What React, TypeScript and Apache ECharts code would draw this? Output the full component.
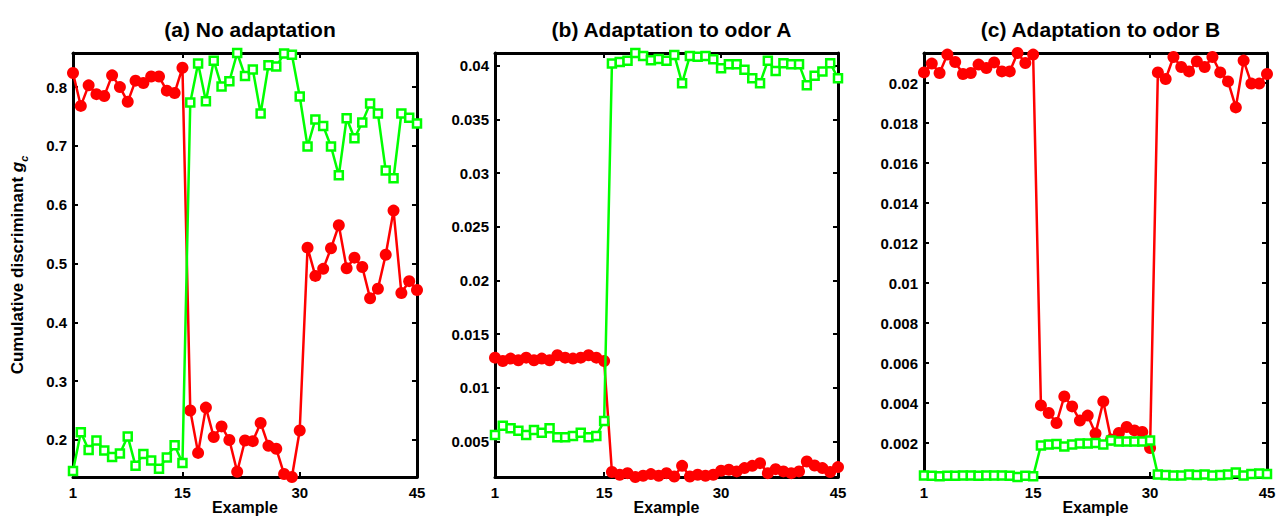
import React, { useEffect, useRef } from "react";
import * as echarts from "echarts";

const examples: number[] = Array.from({ length: 45 }, (_, i) => i + 1);
const xTicks = [1, 15, 30, 45];
const titles = ["(a) No adaptation", "(b) Adaptation to odor A", "(c) Adaptation to odor B"];

const redA = [
  0.824, 0.768, 0.803, 0.788, 0.785, 0.82, 0.8, 0.775, 0.811, 0.807, 0.818, 0.818, 0.794, 0.79, 0.833,
  0.25, 0.178, 0.255, 0.205, 0.223, 0.2, 0.146, 0.199, 0.198, 0.229, 0.19, 0.185, 0.142, 0.137, 0.216,
  0.527, 0.479, 0.491, 0.526, 0.565, 0.492, 0.51, 0.494, 0.441, 0.457, 0.515, 0.59, 0.45, 0.47, 0.455,
];
const greenA = [
  0.147, 0.213, 0.183, 0.199, 0.182, 0.171, 0.177, 0.206, 0.156, 0.176, 0.165, 0.151, 0.17, 0.191, 0.161,
  0.774, 0.84, 0.776, 0.845, 0.801, 0.81, 0.858, 0.819, 0.83, 0.755, 0.837, 0.835, 0.857, 0.855, 0.784,
  0.699, 0.745, 0.734, 0.699, 0.65, 0.747, 0.713, 0.74, 0.772, 0.755, 0.658, 0.645, 0.755, 0.748, 0.738,
];
const redB = [
  0.01282, 0.01251, 0.01273, 0.01258, 0.01282, 0.01258, 0.01273, 0.01258, 0.01304, 0.01282, 0.01273, 0.01282, 0.01304, 0.01282, 0.01251,
  0.00216, 0.00191, 0.00206, 0.0017, 0.00181, 0.00197, 0.00181, 0.00206, 0.00175, 0.00274, 0.00175, 0.00191, 0.00181, 0.00191, 0.00228,
  0.00237, 0.00222, 0.00253, 0.00274, 0.00299, 0.00206, 0.00243, 0.00222, 0.00206, 0.00222, 0.00314, 0.00277, 0.00253, 0.00216, 0.00262,
];
const greenB = [
  0.00562, 0.00648, 0.00624, 0.00602, 0.00562, 0.00608, 0.00583, 0.00624, 0.0054, 0.0054, 0.00553, 0.00583, 0.0054, 0.00553, 0.00692,
  0.04022, 0.04037, 0.04047, 0.0412, 0.04093, 0.04053, 0.04065, 0.04047, 0.04102, 0.03839, 0.04093, 0.04084, 0.04093, 0.04062, 0.03978,
  0.04016, 0.04016, 0.03963, 0.03885, 0.03839, 0.04047, 0.03953, 0.04025, 0.04016, 0.04016, 0.0382, 0.03907, 0.03947, 0.04025, 0.03885,
];
const redC = [
  0.02053, 0.02097, 0.0205, 0.02142, 0.02105, 0.02045, 0.0205, 0.02092, 0.02075, 0.02103, 0.02058, 0.02058, 0.0215, 0.021, 0.02142,
  0.00388, 0.0035, 0.003, 0.00433, 0.00383, 0.00312, 0.00337, 0.00247, 0.00408, 0.00217, 0.0025, 0.0028, 0.00263, 0.00255, 0.00175,
  0.02053, 0.0202, 0.0213, 0.0208, 0.02058, 0.02108, 0.0208, 0.0213, 0.02053, 0.02008, 0.01878, 0.02112, 0.01997, 0.01997, 0.02045,
];
const greenC = [
  0.00037, 0.00036, 0.00034, 0.00036, 0.00036, 0.00037, 0.00037, 0.00036, 0.00037, 0.00037, 0.00037, 0.00036, 0.0003, 0.00036, 0.00034,
  0.00188, 0.00192, 0.00195, 0.00183, 0.00192, 0.00197, 0.00197, 0.002, 0.00192, 0.00213, 0.00208, 0.00208, 0.00208, 0.00208, 0.00212,
  0.00042, 0.0004, 0.00037, 0.00038, 0.00042, 0.0004, 0.00043, 0.00037, 0.0004, 0.00043, 0.00052, 0.00037, 0.00045, 0.00047, 0.00045,
];

const yTicksA = [0.2, 0.3, 0.4, 0.5, 0.6, 0.7, 0.8];
const yTicksB = [0.005, 0.01, 0.015, 0.02, 0.025, 0.03, 0.035, 0.04];
const yTicksC = [0.002, 0.004, 0.006, 0.008, 0.01, 0.012, 0.014, 0.016, 0.018, 0.02];
const yMins = [0.137, 0.0017, 0.0003];
const yMaxs = [0.858, 0.0412, 0.0215];

const FONT = "'Liberation Sans', Arial, Helvetica, sans-serif";
const RED = "#ff0000";
const GREEN = "#00ff00";

export default function App() {
  const ref = useRef<HTMLDivElement>(null);
  useEffect(() => {
    if (!ref.current) return;
    const chart = echarts.init(ref.current, undefined, { renderer: "svg" });
    const lefts = [73, 495, 924];
    const widths = [344, 343, 343];
    const top = 53;
    const height = 424;
    const yTicks = [yTicksA, yTicksB, yTicksC];
    const reds = [redA, redB, redC];
    const greens = [greenA, greenB, greenC];

    const axisLine = { show: true, onZero: false, lineStyle: { color: "#000", width: 3 } };
    const tickStyle = { color: "#000", width: 2 };
    const fmt = (v: number) => String(parseFloat(Number(v).toFixed(4)));

    const grid: any[] = [];
    const xAxis: any[] = [];
    const yAxis: any[] = [];
    const series: any[] = [];
    const title: any[] = [];

    for (let g = 0; g < 3; g++) {
      grid.push({ left: lefts[g], top, width: widths[g], height, containLabel: false, outerBoundsMode: "none" });
      title.push({
        text: titles[g],
        left: lefts[g] + widths[g] / 2,
        textAlign: "center",
        top: 14,
        textStyle: { fontSize: 21, fontWeight: "bold", color: "#000", fontFamily: FONT },
      });
      xAxis.push({
        type: "value",
        gridIndex: g,
        min: 1,
        max: 45,
        position: "bottom",
        axisLine,
        axisTick: { show: true, inside: true, length: 5, lineStyle: tickStyle, customValues: xTicks },
        axisLabel: {
          show: true,
          customValues: xTicks,
          fontSize: 15,
          fontWeight: "bold",
          color: "#000",
          fontFamily: FONT,
          margin: 8,
        },
        splitLine: { show: false },
        name: "Example",
        nameLocation: "middle",
        nameGap: 22,
        nameMoveOverlap: false,
        nameTextStyle: { fontSize: 16, fontWeight: "bold", color: "#000", fontFamily: FONT },
      });
      xAxis.push({
        type: "value",
        gridIndex: g,
        min: 1,
        max: 45,
        position: "top",
        axisLine,
        axisTick: { show: true, inside: true, length: 5, lineStyle: tickStyle, customValues: xTicks },
        axisLabel: { show: false },
        splitLine: { show: false },
      });
      const yl: any = {
        type: "value",
        gridIndex: g,
        min: yMins[g],
        max: yMaxs[g],
        position: "left",
        axisLine,
        axisTick: { show: true, inside: true, length: 5, lineStyle: tickStyle, customValues: yTicks[g] },
        axisLabel: {
          show: true,
          customValues: yTicks[g],
          formatter: fmt,
          fontSize: 15,
          fontWeight: "bold",
          color: "#000",
          fontFamily: FONT,
          margin: 6,
        },
        splitLine: { show: false },
      };
      if (g === 0) {
        yl.name = "{n|Cumulative discriminant }{g|g}{s|c}";
        yl.nameLocation = "middle";
        yl.nameRotate = 90;
        yl.nameGap = 44;
        yl.nameMoveOverlap = false;
        yl.nameTextStyle = {
          fontFamily: FONT,
          rich: {
            n: { fontSize: 17, fontWeight: "bold", color: "#000", fontFamily: FONT, lineHeight: 20, verticalAlign: "top" },
            g: { fontSize: 17, fontWeight: "bold", fontStyle: "italic", color: "#000", fontFamily: FONT, lineHeight: 20, verticalAlign: "top" },
            s: { fontSize: 11, fontWeight: "bold", fontStyle: "italic", color: "#000", fontFamily: FONT, lineHeight: 12, verticalAlign: "top", padding: [9, 0, 0, 0] },
          },
        };
      }
      yAxis.push(yl);
      yAxis.push({
        type: "value",
        gridIndex: g,
        min: yMins[g],
        max: yMaxs[g],
        position: "right",
        axisLine,
        axisTick: { show: true, inside: true, length: 5, lineStyle: tickStyle, customValues: yTicks[g] },
        axisLabel: { show: false },
        splitLine: { show: false },
      });
      series.push({
        type: "line",
        xAxisIndex: g * 2,
        yAxisIndex: g * 2,
        data: reds[g].map((v, i) => [examples[i], v]),
        symbol: "circle",
        symbolSize: 12,
        showAllSymbol: true,
        clip: false,
        lineStyle: { color: RED, width: 2.5 },
        itemStyle: { color: RED, borderWidth: 0 },
        z: 2,
      });
      series.push({
        type: "line",
        xAxisIndex: g * 2,
        yAxisIndex: g * 2,
        data: greens[g].map((v, i) => [examples[i], v]),
        symbol: "rect",
        symbolSize: 8,
        showAllSymbol: true,
        clip: false,
        lineStyle: { color: GREEN, width: 2.5 },
        itemStyle: { color: "#ffffff", borderColor: GREEN, borderWidth: 2.5 },
        z: 3,
      });
    }

    chart.setOption({
      animation: false,
      backgroundColor: "#ffffff",
      textStyle: { fontFamily: FONT },
      title,
      grid,
      xAxis,
      yAxis,
      series,
    });
    return () => chart.dispose();
  }, []);
  return <div ref={ref} style={{ position: "absolute", left: 0, top: 0, width: 1277, height: 517 }} />;
}
